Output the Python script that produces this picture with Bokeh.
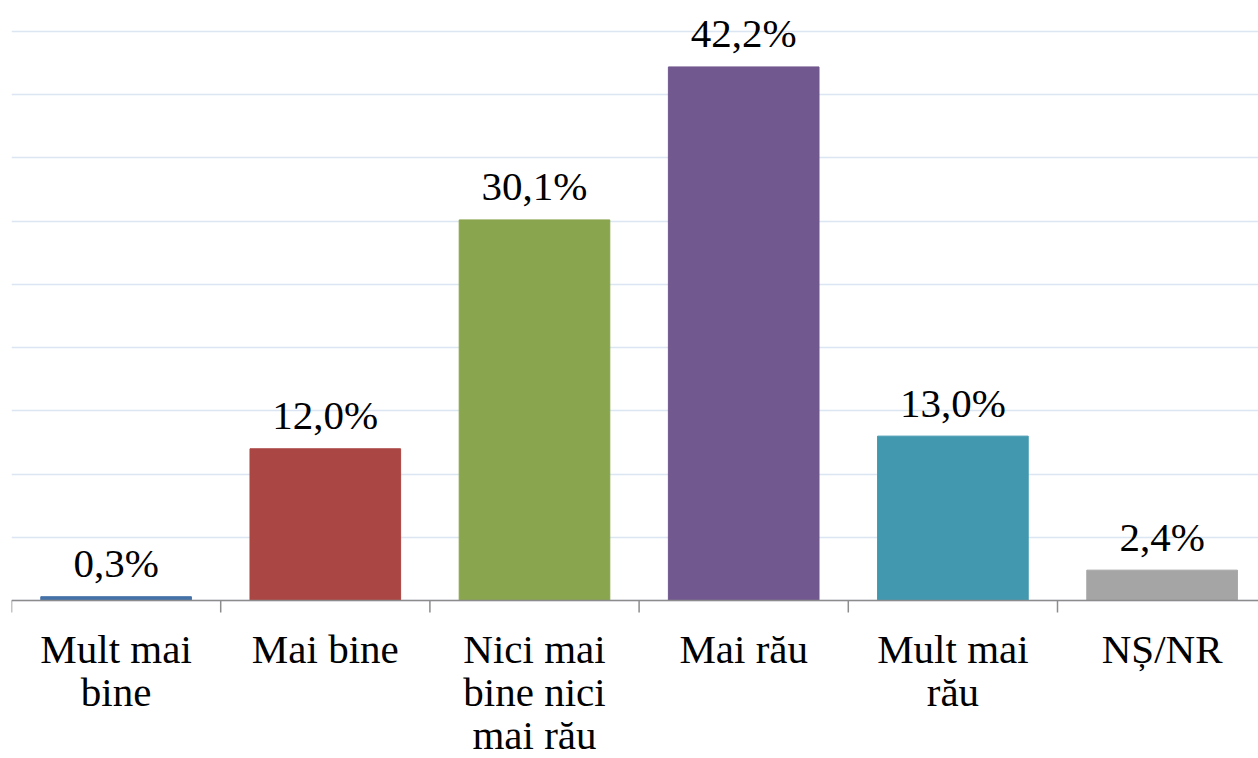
from bokeh.plotting import figure
from bokeh.models import ColumnDataSource, Range1d, FixedTicker, Span, Label
from bokeh.embed import file_html
from bokeh.resources import INLINE

categories = ["Mult mai bine", "Mai bine", "Nici mai bine nici mai rău", "Mai rău", "Mult mai rău", "NȘ/NR"]
cat_lines = [["Mult mai", "bine"], ["Mai bine"], ["Nici mai", "bine nici", "mai rău"], ["Mai rău"], ["Mult mai", "rău"], ["NȘ/NR"]]
values = [0.3, 12.0, 30.1, 42.2, 13.0, 2.4]
labels = ["0,3%", "12,0%", "30,1%", "42,2%", "13,0%", "2,4%"]
colors = ["#4572A7", "#AA4643", "#89A54E", "#71588F", "#4198AF", "#A5A5A5"]
grid_ticks = [0, 5, 10, 15, 20, 25, 30, 35, 40, 45]

FONT = "Liberation Serif, Times New Roman, serif"
W, H = 1258, 758
LEFT = 11            # canvas x of the plot's left edge
PX = 12.644          # pixels per percentage point
CAT_PX = 209.2       # pixels per category
BASE = 600           # canvas y of the zero line
SHIFT = 14           # px correction for Bokeh's alphabetic baseline

n = len(categories)
xs = [i + 0.5 for i in range(n)]
src = ColumnDataSource(dict(x=xs, val=values, col=colors))

p = figure(x_range=Range1d(0, (W - LEFT) / CAT_PX), y_range=Range1d(-(H - BASE) / PX, BASE / PX),
           width=W, height=H, output_backend="svg", toolbar_location=None,
           min_border_left=LEFT, min_border_right=0, min_border_top=0, min_border_bottom=0)
p.outline_line_color = None
p.xaxis.visible = False
p.yaxis.visible = False
p.ygrid.ticker = FixedTicker(ticks=grid_ticks)
p.ygrid.grid_line_color = "#DCE6F2"
p.ygrid.grid_line_width = 1.5
p.xgrid.grid_line_color = None

p.vbar(x="x", top="val", bottom=0, width=0.72, color="col", source=src)

# axis line and category boundary ticks
p.add_layout(Span(location=0, dimension="width", line_color="#8C8C8C", line_width=1.5))
p.segment(x0=list(range(n)), y0=[0] * n, x1=list(range(n)), y1=[-12 / PX] * n,
          line_color="#8C8C8C", line_width=1.5)

# value labels
for x, v, lab in zip(xs, values, labels):
    p.add_layout(Label(x=x, y=v + (19.5 + SHIFT) / PX, text=lab, text_align="center",
                       text_baseline="alphabetic", text_font=FONT,
                       text_font_size="41px", text_color="black"))

# category labels
for i, lines in enumerate(cat_lines):
    for k, line in enumerate(lines):
        p.add_layout(Label(x=xs[i], y=-(62 + 43 * k - SHIFT) / PX, text=line, text_align="center",
                           text_baseline="alphabetic", text_font=FONT,
                           text_font_size="41px", text_color="black"))

open("out.html", "w").write(file_html(p, INLINE))
